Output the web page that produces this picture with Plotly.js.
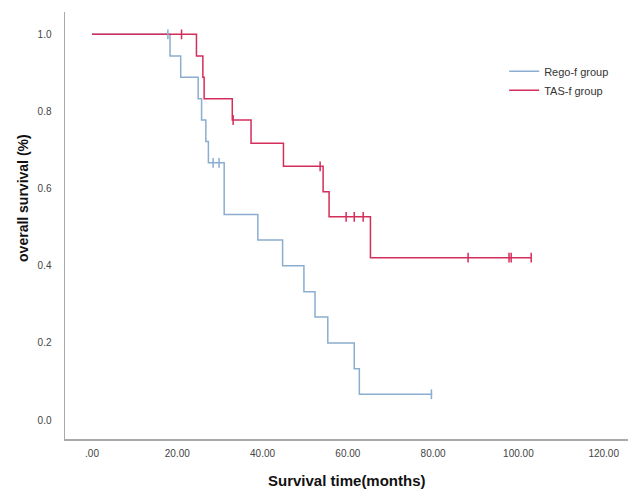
<!DOCTYPE html>
<html>
<head>
<meta charset="utf-8">
<script src="https://cdn.plot.ly/plotly-3.0.1.min.js"></script>
<style>html,body{margin:0;padding:0;background:#fff;}#chart{width:630px;height:489px;}</style>
</head>
<body>
<div id="chart"></div>
<script>
// Rego-f group (Kaplan-Meier step curve)
const regoTime = [0, 18.3, 20.8, 24.9, 25.7, 26.7, 27.3, 31.0, 38.9, 44.7, 49.7, 52.3, 55.3, 61.5, 62.7, 79.8];
const regoSurv = [1.0, 0.944, 0.889, 0.833, 0.778, 0.722, 0.667, 0.533, 0.467, 0.400, 0.333, 0.267, 0.200, 0.133, 0.067, 0.067];
const regoCensorTime = [17.8, 28.4, 29.8, 79.6];
const regoCensorSurv = [1.0, 0.667, 0.667, 0.067];

// TAS-f group
const tasTime = [0, 24.5, 26.0, 26.3, 32.9, 37.3, 44.9, 54.2, 55.6, 65.3, 103.0];
const tasSurv = [1.0, 0.944, 0.889, 0.833, 0.778, 0.718, 0.658, 0.592, 0.527, 0.421, 0.421];
const tasCensorTime = [21.0, 33.1, 53.5, 59.6, 61.5, 63.6, 88.2, 97.8, 98.3, 103.0];
const tasCensorSurv = [1.0, 0.778, 0.658, 0.527, 0.527, 0.527, 0.421, 0.421, 0.421, 0.421];

const xTickVals = [0, 20, 40, 60, 80, 100, 120];
const xTickText = ['.00', '20.00', '40.00', '60.00', '80.00', '100.00', '120.00'];
const yTickVals = [0, 0.2, 0.4, 0.6, 0.8, 1.0];
const yTickText = ['0.0', '0.2', '0.4', '0.6', '0.8', '1.0'];

const blue = '#8AADD0';
const red = '#D42D5B';

const traces = [
  {x: regoTime, y: regoSurv, type: 'scatter', mode: 'lines', name: 'Rego-f group',
   line: {shape: 'hv', color: blue, width: 1.5}},
  {x: tasTime, y: tasSurv, type: 'scatter', mode: 'lines', name: 'TAS-f group',
   line: {shape: 'hv', color: red, width: 1.5}},
  {x: regoCensorTime, y: regoCensorSurv, type: 'scatter', mode: 'markers', showlegend: false,
   marker: {symbol: 'line-ns-open', size: 7, color: blue, line: {color: blue, width: 1.5}}},
  {x: tasCensorTime, y: tasCensorSurv, type: 'scatter', mode: 'markers', showlegend: false,
   marker: {symbol: 'line-ns-open', size: 7, color: red, line: {color: red, width: 1.5}}}
];

const layout = {
  width: 630, height: 489,
  margin: {l: 65, r: 2, t: 12, b: 50},
  paper_bgcolor: '#fff', plot_bgcolor: '#fff',
  font: {family: 'Liberation Sans, Arial, sans-serif', color: '#444', size: 10},
  showlegend: true,
  legend: {x: 0.78, y: 0.895, xanchor: 'left', yanchor: 'top', bgcolor: 'rgba(0,0,0,0)',
           font: {size: 11, color: '#333'}, tracegroupgap: 0},
  xaxis: {range: [-6.33, 125.7], tickvals: xTickVals, ticktext: xTickText, showgrid: false,
          zeroline: false, showline: true, linecolor: '#aaa', linewidth: 1.5, ticks: '',
          ticklabelstandoff: 4, tickfont: {size: 10, color: '#444'}},
  yaxis: {range: [-0.049, 1.058], tickvals: yTickVals, ticktext: yTickText, showgrid: false,
          zeroline: false, showline: true, linecolor: '#aaa', linewidth: 1.5, ticks: '',
          ticklabelstandoff: 10, tickfont: {size: 10, color: '#444'}},
  annotations: [
    {text: '<b>overall survival (%)</b>', xref: 'paper', yref: 'paper', x: -0.075, y: 0.564,
     textangle: -90, showarrow: false, xanchor: 'center', yanchor: 'middle',
     font: {size: 14, color: '#111'}},
    {text: '<b>Survival time(months)</b>', xref: 'paper', yref: 'paper', x: 0.5, y: -0.098,
     showarrow: false, xanchor: 'center', yanchor: 'middle',
     font: {size: 15, color: '#111'}}
  ]
};

Plotly.newPlot('chart', traces, layout, {displayModeBar: false, staticPlot: true});
</script>
</body>
</html>
